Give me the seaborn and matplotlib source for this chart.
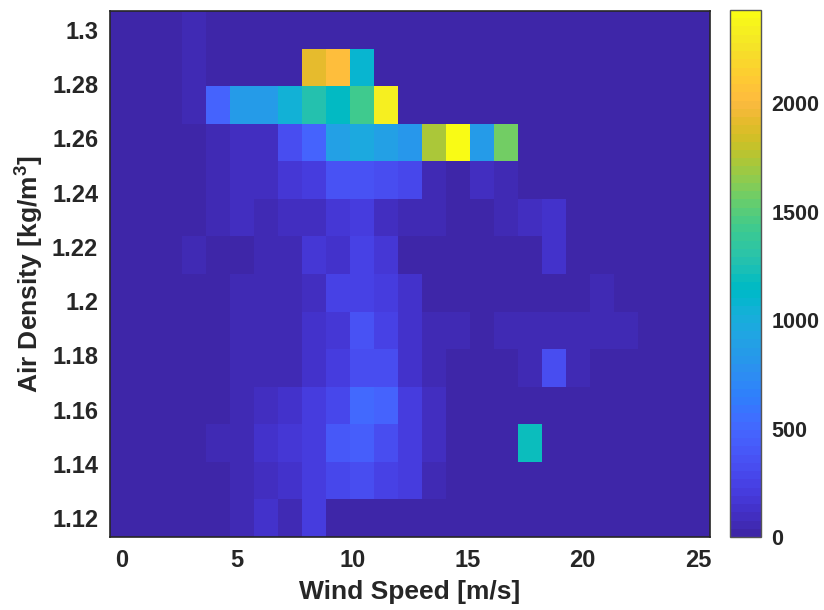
import numpy as np
import pandas as pd
import matplotlib
matplotlib.use("Agg")
import matplotlib.pyplot as plt
import seaborn as sns
from matplotlib.colors import ListedColormap

# ---- data -------------------------------------------------------------
wind_speed = [0.0, 1.042, 2.083, 3.125, 4.167, 5.208, 6.25, 7.292, 8.333,
              9.375, 10.417, 11.458, 12.5, 13.542, 14.583, 15.625, 16.667,
              17.708, 18.75, 19.792, 20.833, 21.875, 22.917, 23.958, 25.0]
air_density = [1.12, 1.1338, 1.1477, 1.1615, 1.1754, 1.1892, 1.2031,
               1.2169, 1.2308, 1.2446, 1.2585, 1.2723, 1.2862, 1.30]

# counts, one list per density row (bottom row first), one value per wind bin
row_1120 = [5, 10, 15, 20, 30, 50, 120, 50, 200, 0, 0, 0, 0, 0, 0, 0, 0, 0, 0, 0, 0, 0, 0, 0, 0]
row_1134 = [5, 10, 15, 25, 35, 60, 90, 120, 190, 300, 320, 240, 190, 40, 0, 0, 0, 0, 0, 0, 0, 0, 0, 0, 0]
row_1148 = [5, 10, 15, 25, 40, 70, 120, 170, 210, 400, 450, 320, 190, 80, 10, 5, 5, 1200, 0, 0, 0, 0, 0, 0, 0]
row_1162 = [5, 10, 15, 25, 35, 60, 100, 150, 200, 300, 530, 470, 190, 80, 10, 0, 0, 0, 0, 0, 0, 0, 0, 0, 0]
row_1175 = [5, 10, 15, 25, 35, 45, 50, 65, 150, 200, 320, 320, 115, 50, 25, 25, 25, 40, 320, 50, 0, 0, 0, 0, 0]
row_1189 = [5, 10, 15, 20, 35, 40, 40, 60, 130, 180, 350, 260, 120, 40, 40, 30, 60, 60, 50, 60, 60, 50, 0, 0, 0]
row_1203 = [5, 10, 15, 20, 30, 40, 50, 65, 110, 250, 250, 220, 125, 30, 25, 25, 35, 0, 0, 0, 40, 20, 0, 0, 0]
row_1217 = [5, 10, 15, 40, 30, 30, 50, 55, 160, 150, 230, 160, 35, 25, 25, 20, 35, 35, 150, 0, 0, 0, 0, 0, 0]
row_1231 = [5, 5, 10, 20, 60, 110, 70, 80, 100, 160, 190, 110, 45, 40, 25, 25, 60, 90, 120, 0, 0, 0, 0, 0, 0]
row_1245 = [10, 10, 10, 20, 40, 80, 110, 160, 220, 360, 360, 340, 280, 50, 20, 90, 60, 15, 35, 0, 0, 0, 0, 0, 0]
row_1258 = [10, 10, 10, 25, 60, 100, 80, 330, 460, 900, 950, 900, 830, 1710, 2430, 850, 1580, 15, 0, 0, 0, 0, 0, 0, 0]
row_1272 = [0, 0, 0, 40, 480, 850, 850, 1060, 1270, 1150, 1430, 2330, 35, 0, 0, 0, 0, 0, 0, 0, 0, 0, 0, 0, 0]
row_1286 = [0, 0, 0, 40, 0, 0, 0, 0, 1920, 2030, 1100, 0, 0, 0, 0, 0, 0, 0, 0, 0, 0, 0, 0, 0, 0]
row_1300 = [0, 0, 0, 40, 0, 0, 0, 0, 0, 0, 0, 0, 0, 0, 0, 0, 0, 0, 0, 0, 0, 0, 0, 0, 0]

x_ticks = [0, 5, 10, 15, 20, 25]
y_ticks = [1.12, 1.14, 1.16, 1.18, 1.20, 1.22, 1.24, 1.26, 1.28, 1.30]
y_tick_labels = ["1.12", "1.14", "1.16", "1.18", "1.2", "1.22", "1.24", "1.26", "1.28", "1.3"]
cbar_ticks = [0, 500, 1000, 1500, 2000]

# ---- parula colormap --------------------------------------------------
parula_rgb = [
    [0.2422, 0.1504, 0.6603], [0.2504, 0.1650, 0.7076], [0.2578, 0.1818, 0.7511],
    [0.2647, 0.1978, 0.7952], [0.2706, 0.2147, 0.8364], [0.2751, 0.2342, 0.8710],
    [0.2783, 0.2559, 0.8991], [0.2803, 0.2782, 0.9221], [0.2813, 0.3006, 0.9414],
    [0.2810, 0.3228, 0.9579], [0.2795, 0.3447, 0.9717], [0.2760, 0.3667, 0.9829],
    [0.2699, 0.3892, 0.9906], [0.2602, 0.4123, 0.9952], [0.2440, 0.4358, 0.9988],
    [0.2206, 0.4603, 0.9973], [0.1963, 0.4847, 0.9892], [0.1834, 0.5074, 0.9798],
    [0.1786, 0.5289, 0.9682], [0.1764, 0.5499, 0.9520], [0.1687, 0.5703, 0.9359],
    [0.1540, 0.5902, 0.9218], [0.1460, 0.6091, 0.9079], [0.1380, 0.6276, 0.8973],
    [0.1248, 0.6459, 0.8883], [0.1113, 0.6635, 0.8763], [0.0952, 0.6798, 0.8598],
    [0.0689, 0.6948, 0.8394], [0.0297, 0.7082, 0.8163], [0.0036, 0.7203, 0.7917],
    [0.0067, 0.7312, 0.7660], [0.0433, 0.7411, 0.7394], [0.0964, 0.7500, 0.7120],
    [0.1408, 0.7584, 0.6842], [0.1717, 0.7670, 0.6554], [0.1938, 0.7758, 0.6251],
    [0.2161, 0.7843, 0.5923], [0.2470, 0.7918, 0.5567], [0.2906, 0.7973, 0.5188],
    [0.3406, 0.8008, 0.4789], [0.3909, 0.8029, 0.4354], [0.4456, 0.8024, 0.3909],
    [0.5044, 0.7993, 0.3480], [0.5616, 0.7942, 0.3045], [0.6174, 0.7876, 0.2612],
    [0.6720, 0.7793, 0.2227], [0.7242, 0.7698, 0.1910], [0.7738, 0.7598, 0.1646],
    [0.8203, 0.7498, 0.1535], [0.8634, 0.7406, 0.1596], [0.9035, 0.7330, 0.1774],
    [0.9393, 0.7288, 0.2100], [0.9728, 0.7298, 0.2394], [0.9956, 0.7434, 0.2371],
    [0.9970, 0.7659, 0.2199], [0.9952, 0.7893, 0.2028], [0.9892, 0.8136, 0.1885],
    [0.9786, 0.8386, 0.1766], [0.9676, 0.8639, 0.1643], [0.9610, 0.8890, 0.1537],
    [0.9597, 0.9135, 0.1423], [0.9628, 0.9373, 0.1265], [0.9691, 0.9606, 0.1064],
    [0.9769, 0.9839, 0.0805]]
parula = ListedColormap(parula_rgb, name="parula")

# ---- table -------------------------------------------------------------
rows = [row_1120, row_1134, row_1148, row_1162, row_1175, row_1189, row_1203,
        row_1217, row_1231, row_1245, row_1258, row_1272, row_1286, row_1300]
df = pd.DataFrame(rows, index=air_density, columns=wind_speed)
df = df.iloc[::-1]  # highest density on top

# ---- figure ------------------------------------------------------------
sns.set_style("white")
plt.rcParams["font.family"] = ["Liberation Sans", "DejaVu Sans"]
plt.rcParams["font.weight"] = "bold"
plt.rcParams["mathtext.fontset"] = "custom"
plt.rcParams["mathtext.bf"] = "Liberation Sans:bold"
plt.rcParams["mathtext.rm"] = "Liberation Sans:bold"
TXT = "#262626"

W, H = 824, 610
fig = plt.figure(figsize=(W / 100, H / 100), dpi=100)
ax = fig.add_axes([110 / W, 1 - 537 / H, 600 / W, 526 / H])
cax = fig.add_axes([729.5 / W, 1 - 537 / H, 31.5 / W, 527 / H])

vmax = max(max(r) for r in rows)
sns.heatmap(df, cmap=parula, vmin=0, vmax=vmax, ax=ax, cbar_ax=cax,
            xticklabels=False, yticklabels=False, linewidths=0)

# ticks in data units -> heatmap cell coordinates
xs = np.array(wind_speed)
ys = np.array(air_density)
xpos = [np.interp(v, xs, np.arange(len(xs))) + 0.5 for v in x_ticks]
ypos = [len(ys) - 0.5 - np.interp(v, ys, np.arange(len(ys))) for v in y_ticks]
ax.set_xticks(xpos)
ax.set_xticklabels([str(v) for v in x_ticks])
ax.set_yticks(ypos)
ax.set_yticklabels(y_tick_labels, rotation=0)

for s in ax.spines.values():
    s.set_visible(True)
    s.set_color(TXT)
    s.set_linewidth(1.2)
ax.tick_params(axis="both", direction="in", top=True, right=True,
               length=5, width=1.2, color=TXT, labelsize=17,
               labelcolor=TXT, pad=8.5)
for lab in ax.get_xticklabels() + ax.get_yticklabels():
    lab.set_fontweight("bold")

ax.set_xlabel("Wind Speed [m/s]", fontsize=19, fontweight="bold", color=TXT, labelpad=6)
ax.set_ylabel(r"Air Density [kg/m$^{\mathbf{3}}$]", fontsize=19, fontweight="bold",
              color=TXT, labelpad=5)

cb = ax.collections[0].colorbar
cb.set_ticks(cbar_ticks)
cb.set_ticklabels([str(t) for t in cbar_ticks])
cb.outline.set_linewidth(1.0)
cb.outline.set_edgecolor("#555555")
cax.tick_params(direction="in", length=5, width=1.2, color=TXT,
                labelsize=15.5, labelcolor=TXT, pad=7.5)
for lab in cax.get_yticklabels():
    lab.set_fontweight("bold")

fig.savefig("out.png", dpi=100)
